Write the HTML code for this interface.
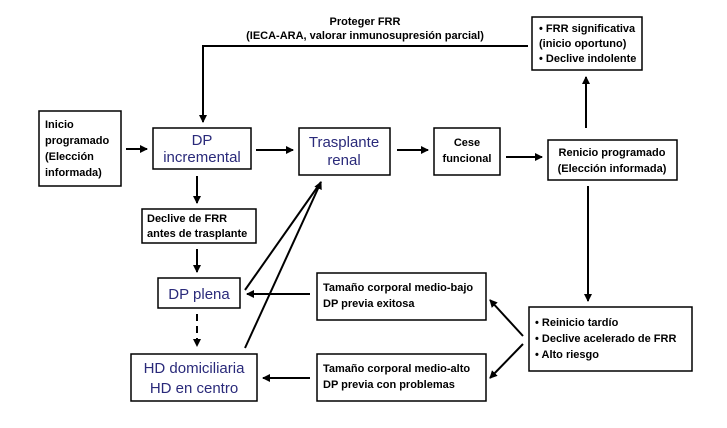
<!DOCTYPE html>
<html><head><meta charset="utf-8"><style>
body{margin:0;background:#fff}
svg{display:block}
text{font-family:"Liberation Sans",sans-serif}
.b{font-weight:bold;font-size:11px;fill:#000}
.bl{font-size:15px;fill:#2a2a7a}
rect{fill:#fff;stroke:#000;stroke-width:1.5}
line,polyline{stroke:#000;stroke-width:2;fill:none}
</style></head><body>
<svg width="727" height="428" viewBox="0 0 727 428">
<defs><marker id="a" markerWidth="8" markerHeight="8" refX="7" refY="4" orient="auto" markerUnits="userSpaceOnUse"><path d="M0,0 L8,4 L0,8 z" fill="#000"/></marker></defs>

<!-- boxes -->
<rect x="39" y="111" width="82" height="75"/>
<text class="b" x="45" y="128">Inicio</text>
<text class="b" x="45" y="144">programado</text>
<text class="b" x="45" y="160">(Elección</text>
<text class="b" x="45" y="176">informada)</text>

<rect x="153" y="128" width="98" height="41"/>
<text class="bl" x="202" y="145" text-anchor="middle">DP</text>
<text class="bl" x="202" y="162" text-anchor="middle">incremental</text>

<rect x="299" y="128" width="91" height="47"/>
<text class="bl" x="344" y="147" text-anchor="middle">Trasplante</text>
<text class="bl" x="344" y="165" text-anchor="middle">renal</text>

<rect x="434" y="128" width="66" height="47"/>
<text class="b" x="467" y="146" text-anchor="middle">Cese</text>
<text class="b" x="467" y="162" text-anchor="middle">funcional</text>

<rect x="548" y="140" width="129" height="40"/>
<text class="b" x="612" y="156" text-anchor="middle">Renicio programado</text>
<text class="b" x="612" y="172" text-anchor="middle">(Elección informada)</text>

<rect x="532" y="17" width="110" height="53"/>
<text class="b" x="539" y="32">• FRR significativa</text>
<text class="b" x="539" y="47">(inicio oportuno)</text>
<text class="b" x="539" y="62">• Declive indolente</text>

<text class="b" x="365" y="25" text-anchor="middle">Proteger FRR</text>
<text class="b" x="365" y="39" text-anchor="middle">(IECA-ARA, valorar inmunosupresión parcial)</text>

<rect x="142" y="209" width="114" height="34"/>
<text class="b" x="147" y="222">Declive de FRR</text>
<text class="b" x="147" y="237">antes de trasplante</text>

<rect x="158" y="278" width="82" height="30"/>
<text class="bl" x="199" y="299" text-anchor="middle">DP plena</text>

<rect x="131" y="354" width="126" height="47"/>
<text class="bl" x="194" y="373" text-anchor="middle">HD domiciliaria</text>
<text class="bl" x="194" y="393" text-anchor="middle">HD en centro</text>

<rect x="317" y="273" width="169" height="47"/>
<text class="b" x="323" y="291">Tamaño corporal medio-bajo</text>
<text class="b" x="323" y="307">DP previa exitosa</text>

<rect x="317" y="354" width="169" height="47"/>
<text class="b" x="323" y="372">Tamaño corporal medio-alto</text>
<text class="b" x="323" y="388">DP previa con problemas</text>

<rect x="529" y="307" width="163" height="64"/>
<text class="b" x="535" y="326">• Reinicio tardío</text>
<text class="b" x="535" y="342">• Declive acelerado de FRR</text>
<text class="b" x="535" y="358">• Alto riesgo</text>

<!-- connectors -->
<polyline points="528,46 203,46 203,122" marker-end="url(#a)"/>
<line x1="126" y1="149" x2="147" y2="149" marker-end="url(#a)" stroke-width="3"/>
<line x1="256" y1="150" x2="293" y2="150" marker-end="url(#a)"/>
<line x1="397" y1="150" x2="428" y2="150" marker-end="url(#a)"/>
<line x1="506" y1="157" x2="542" y2="157" marker-end="url(#a)"/>
<line x1="586" y1="128" x2="586" y2="77" marker-end="url(#a)"/>
<line x1="588" y1="186" x2="588" y2="301" marker-end="url(#a)"/>
<line x1="197" y1="176" x2="197" y2="203" marker-end="url(#a)"/>
<line x1="197" y1="249" x2="197" y2="272" marker-end="url(#a)"/>
<line x1="197" y1="314" x2="197" y2="346" stroke-dasharray="7,5" marker-end="url(#a)"/>
<line x1="310" y1="294" x2="247" y2="294" marker-end="url(#a)"/>
<line x1="310" y1="378" x2="263" y2="378" marker-end="url(#a)"/>
<line x1="523" y1="336" x2="490" y2="300" marker-end="url(#a)"/>
<line x1="523" y1="344" x2="490" y2="378" marker-end="url(#a)"/>
<line x1="245" y1="290" x2="321" y2="182"/>
<line x1="245" y1="348" x2="321" y2="182" marker-end="url(#a)"/>
</svg>
</body></html>
